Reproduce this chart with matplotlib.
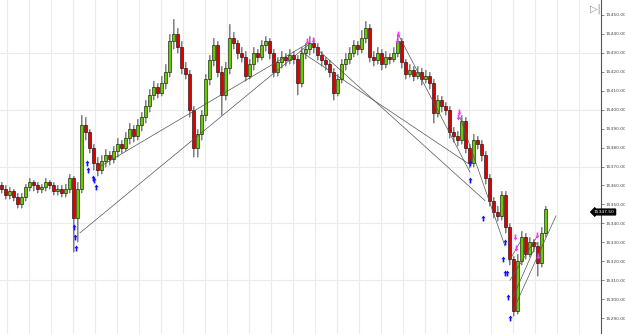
#Libraries
import numpy as np
import matplotlib
matplotlib.use('Agg')
import matplotlib.pyplot as plt
from matplotlib.path import Path

#Candle data (one candle per bar index)
opens = [
15360, 15358, 15355, 15357, 15354, 15350, 15354, 15359, 15362, 15360,
15358, 15359, 15362, 15360, 15357, 15358, 15356, 15358, 15364, 15343,
15358, 15392, 15388, 15380, 15372, 15368, 15373, 15376, 15374, 15378,
15382, 15380, 15385, 15390, 15386, 15392, 15396, 15402, 15408, 15412,
15409, 15414, 15420, 15436, 15440, 15433, 15422, 15419, 15400, 15380,
15387, 15397, 15416, 15426, 15434, 15420, 15408, 15422, 15438, 15435,
15430, 15428, 15418, 15424, 15430, 15428, 15434, 15436, 15430, 15420,
15425, 15428, 15426, 15429, 15427, 15414, 15430, 15432, 15435, 15433,
15429, 15426, 15424, 15420, 15409, 15416, 15424, 15427, 15430, 15434,
15432, 15438, 15443, 15428, 15426, 15430, 15424, 15428, 15427, 15430,
15436, 15425, 15419, 15421, 15418, 15420, 15416, 15418, 15414, 15398,
15405, 15402, 15400, 15388, 15386, 15384, 15394, 15380, 15372, 15384,
15382, 15376, 15364, 15352, 15346, 15344, 15355, 15338, 15321, 15294,
15320, 15333, 15324, 15330, 15328, 15319, 15335]
closes = [
15358, 15355, 15357, 15354, 15350, 15354, 15359, 15362, 15360, 15358,
15359, 15362, 15360, 15357, 15358, 15356, 15358, 15364, 15343, 15358,
15392, 15388, 15380, 15372, 15368, 15373, 15376, 15374, 15378, 15382,
15380, 15385, 15390, 15386, 15392, 15396, 15402, 15408, 15412, 15409,
15414, 15420, 15436, 15440, 15433, 15422, 15419, 15400, 15380, 15387,
15397, 15416, 15426, 15434, 15420, 15408, 15422, 15438, 15435, 15430,
15428, 15418, 15424, 15430, 15428, 15434, 15436, 15430, 15420, 15425,
15428, 15426, 15429, 15427, 15414, 15430, 15432, 15435, 15433, 15429,
15426, 15424, 15420, 15409, 15416, 15424, 15427, 15430, 15434, 15432,
15438, 15443, 15428, 15426, 15430, 15424, 15428, 15427, 15430, 15436,
15425, 15419, 15421, 15418, 15420, 15416, 15418, 15414, 15398, 15405,
15402, 15400, 15388, 15386, 15384, 15394, 15380, 15372, 15384, 15382,
15376, 15364, 15352, 15346, 15344, 15355, 15338, 15321, 15294, 15320,
15333, 15324, 15330, 15328, 15319, 15335, 15347.5]
highs = [
15362, 15360, 15359, 15358, 15356, 15356, 15361, 15364, 15363, 15362,
15361, 15364, 15363, 15362, 15360, 15360, 15361, 15366, 15365, 15362,
15397, 15396, 15390, 15382, 15375, 15376, 15379, 15378, 15381, 15385,
15384, 15388, 15393, 15392, 15395, 15399, 15405, 15411, 15415, 15414,
15418, 15424, 15440, 15448, 15443, 15436, 15425, 15421, 15402, 15390,
15400, 15419, 15429, 15438, 15436, 15423, 15425, 15445, 15441, 15437,
15433, 15431, 15427, 15433, 15432, 15437, 15439, 15438, 15432, 15428,
15431, 15430, 15432, 15431, 15429, 15433, 15435, 15439, 15438, 15435,
15431, 15428, 15426, 15422, 15419, 15427, 15430, 15433, 15437, 15436,
15442, 15447, 15445, 15431, 15433, 15432, 15431, 15430, 15433, 15440,
15438, 15427, 15424, 15423, 15423, 15422, 15421, 15420, 15416, 15408,
15407, 15404, 15402, 15391, 15389, 15397, 15396, 15382, 15387, 15386,
15384, 15378, 15366, 15354, 15349, 15357, 15357, 15340, 15323, 15324,
15336, 15335, 15333, 15332, 15330, 15338, 15349]
lows = [
15356, 15353, 15353, 15352, 15348, 15348, 15352, 15357, 15357, 15356,
15356, 15357, 15358, 15355, 15355, 15354, 15354, 15356, 15325, 15330,
15356, 15384, 15377, 15368, 15365, 15366, 15370, 15371, 15372, 15375,
15377, 15378, 15382, 15383, 15384, 15389, 15393, 15399, 15405, 15406,
15407, 15411, 15417, 15432, 15430, 15419, 15416, 15396, 15375, 15375,
15384, 15394, 15413, 15423, 15417, 15397, 15405, 15419, 15432, 15427,
15425, 15415, 15416, 15421, 15425, 15426, 15431, 15427, 15417, 15418,
15422, 15423, 15424, 15424, 15408, 15412, 15427, 15429, 15430, 15426,
15423, 15421, 15417, 15405, 15407, 15414, 15421, 15424, 15428, 15429,
15430, 15435, 15425, 15423, 15424, 15421, 15422, 15424, 15425, 15428,
15422, 15416, 15417, 15415, 15416, 15413, 15414, 15411, 15393, 15396,
15399, 15397, 15385, 15383, 15381, 15382, 15377, 15369, 15370, 15379,
15373, 15361, 15349, 15343, 15341, 15342, 15335, 15318, 15291, 15292,
15318, 15321, 15322, 15325, 15312, 15317, 15333]

#Signal arrows (bar index, price)
buy_x = [18.25, 18.5, 18.75, 21.5, 21.75, 23, 23.25, 23.75, 117.25, 117.25, 120.5, 126, 125.5, 126, 126.5, 126.75, 127.25]
buy_y = [15338, 15333, 15327, 15372, 15368, 15364, 15363, 15359, 15372, 15363, 15343, 15330, 15321, 15314, 15314, 15301, 15290]
sell_x = [76.5, 78, 99.25, 99, 114.5, 114.25, 128.5, 128.75, 134, 134.25]
sell_y = [15436, 15437, 15440, 15436, 15399, 15396, 15333, 15327, 15334, 15323]

#Trend lines (start bar, start price, end bar, end price)
trend_lines = [
    (19.75, 15335, 77.25, 15435),
    (24.0, 15369, 76.75, 15435),
    (74.75, 15431, 117.25, 15371),
    (78.5, 15433, 121.0, 15352),
    (99.25, 15440, 117.25, 15367),
    (114.75, 15396, 126.0, 15328),
    (128.0, 15294, 138.75, 15344),
    (127.25, 15310, 134.0, 15333),
    (128.0, 15301, 134.0, 15330),
    (127.0, 15320, 130.0, 15331),
]

last_label = '15347.50'
price_ticks = np.arange(15290, 15451, 10)
grid_prices = [15310, 15340, 15370, 15400, 15430]

fig = plt.figure(figsize=(6.25, 3.34), dpi=100)
ax = fig.add_axes([0, 0, 601/625, 1])
ax.set_xlim(-0.25, 150)
ax.set_ylim(15281.6, 15457.9)

#Grid
for gx in np.arange(1.575, 150, 5.5):
    ax.axvline(gx, color='#ebebeb', lw=0.8, zorder=0)
for gy in grid_prices:
    ax.axhline(gy, color='#ebebeb', lw=0.8, zorder=0)

#Candles
x = np.arange(len(closes))
o = np.array(opens); c = np.array(closes)
ax.vlines(x + 0.3, lows, highs, color='#aaaaaa', lw=1.2, zorder=1)
ax.vlines(x, lows, highs, color='#777777', lw=0.6, zorder=2)
cols = np.where(c >= o, '#66cc00', '#e00000')
ax.bar(x, c - o, bottom=o, width=0.75, color=cols, edgecolor='black', linewidth=0.4, zorder=3)

#Trend lines
for x0, y0, x1, y1 in trend_lines:
    ax.plot([x0, x1], [y0, y1], color='#555555', lw=0.5, zorder=4)

#Arrows
up = Path([(0, 1), (-0.7, 0.1), (-0.28, 0.1), (-0.28, -1), (0.28, -1), (0.28, 0.1), (0.7, 0.1), (0, 1)])
down = Path([(0, -1), (-0.7, -0.1), (-0.28, -0.1), (-0.28, 1), (0.28, 1), (0.28, -0.1), (0.7, -0.1), (0, -1)])
ax.scatter(buy_x, buy_y, marker=up, s=18, color='#1010ff', zorder=5, linewidths=0)
ax.scatter(sell_x, sell_y, marker=down, s=18, color='#ff33ff', zorder=5, linewidths=0)

#Axis on the right
for s in ['left', 'top', 'bottom']:
    ax.spines[s].set_visible(False)
ax.spines['right'].set_color('#555555')
ax.spines['right'].set_linewidth(0.8)
ax.set_xticks([])
ax.yaxis.tick_right()
ax.set_yticks(price_ticks)
ax.set_yticklabels(['%.2f' % p for p in price_ticks])
ax.tick_params(axis='y', labelsize=3.2, colors='#555555', length=2.5, width=0.5, pad=0.8)
for lbl in ax.get_yticklabels():
    lbl.set_color('#444444')

#Last price tag
ax.text(0.988, closes[-1] - 1.5, last_label, transform=ax.get_yaxis_transform(), fontsize=3.2,
        color='white', ha='left', va='center', zorder=6, clip_on=False,
        bbox=dict(boxstyle='larrow,pad=0.2', fc='black', ec='black'))

#Corner icon
fig.text(0.944, 0.975, '\u25b7|', fontsize=7, color='#888888', ha='left', va='center')

plt.savefig('out.png', dpi=100)
